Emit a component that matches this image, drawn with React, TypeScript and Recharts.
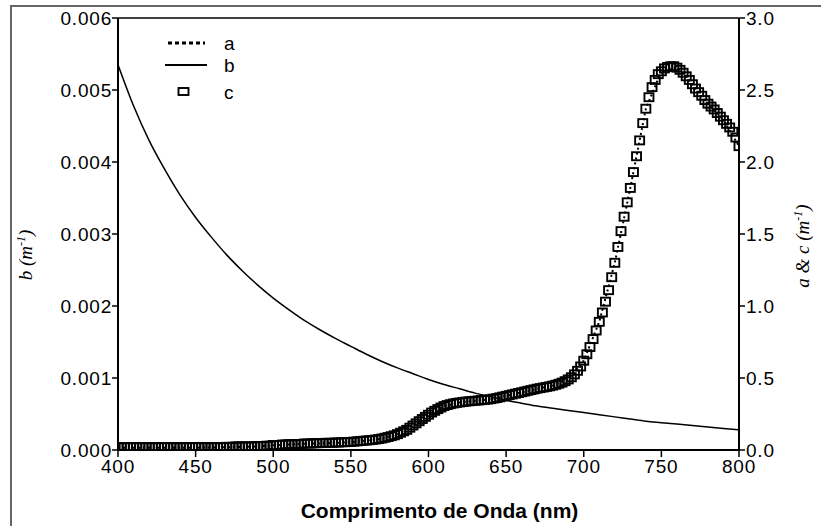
import React from 'react';
import { ComposedChart, Line, Scatter, XAxis, YAxis, Legend, ReferenceLine, Label } from 'recharts';

// Wavelength grid (nm)
const WL_B: number[] = [400, 410, 420, 430, 440, 450, 460, 470, 480, 490, 500, 510, 520, 530, 540, 550, 560, 570, 580, 590, 600, 610, 620, 630, 640, 650, 660, 670, 680, 690, 700, 710, 720, 730, 740, 750, 760, 770, 780, 790, 800];
const WL_C: number[] = Array.from({ length: 201 }, (_, i) => 400 + 2 * i);

// b (m^-1), left axis
const B_VALUES: number[] = [
  0.00535, 0.00478, 0.0043, 0.0039, 0.00354, 0.00323, 0.00296, 0.00271, 0.00249, 0.00229,
  0.00211, 0.00195, 0.0018, 0.00167, 0.00155, 0.00144, 0.00133, 0.00123, 0.00114, 0.00106,
  0.00098, 0.00091, 0.00085, 0.00079, 0.00074, 0.00069, 0.00065, 0.00061, 0.00058, 0.00055,
  0.00052, 0.00049, 0.00046, 0.00043, 0.0004, 0.00038, 0.00036, 0.00034, 0.00032, 0.0003,
  0.00028,
];

// a (m^-1), right axis
const A_VALUES: number[] = [
  0.015, 0.015, 0.015, 0.016, 0.016, 0.016, 0.017, 0.019, 0.022, 0.025,
  0.033, 0.038, 0.043, 0.046, 0.05, 0.054, 0.065, 0.079, 0.11, 0.17,
  0.245, 0.305, 0.33, 0.341, 0.352, 0.375, 0.4, 0.425, 0.447, 0.49,
  0.62, 0.89, 1.3, 1.82, 2.37, 2.63, 2.655, 2.54, 2.405, 2.29,
  2.11,
];

// c (m^-1), right axis, every 2 nm
const C_VALUES: number[] = [
  0.02, 0.02, 0.02, 0.02, 0.02, 0.02, 0.02, 0.02, 0.02, 0.02,
  0.02, 0.02, 0.02, 0.02, 0.02, 0.02, 0.02, 0.02, 0.02, 0.02,
  0.02, 0.02, 0.02, 0.02, 0.02, 0.02, 0.02, 0.02, 0.02, 0.02,
  0.02, 0.02, 0.02, 0.02, 0.02, 0.022, 0.022, 0.022, 0.025, 0.025,
  0.025, 0.025, 0.025, 0.025, 0.025, 0.028, 0.028, 0.028, 0.03, 0.03,
  0.035, 0.035, 0.035, 0.038, 0.038, 0.04, 0.04, 0.04, 0.042, 0.042,
  0.045, 0.045, 0.045, 0.047, 0.047, 0.048, 0.048, 0.05, 0.05, 0.05,
  0.052, 0.052, 0.054, 0.054, 0.055, 0.056, 0.058, 0.06, 0.062, 0.064,
  0.066, 0.068, 0.07, 0.073, 0.076, 0.08, 0.085, 0.09, 0.096, 0.102,
  0.11, 0.12, 0.13, 0.14, 0.155, 0.17, 0.185, 0.2, 0.215, 0.23,
  0.245, 0.26, 0.272, 0.284, 0.295, 0.305, 0.312, 0.318, 0.323, 0.327,
  0.33, 0.333, 0.336, 0.338, 0.34, 0.342, 0.344, 0.346, 0.348, 0.35,
  0.353, 0.357, 0.361, 0.366, 0.371, 0.376, 0.381, 0.386, 0.391, 0.396,
  0.401, 0.406, 0.411, 0.416, 0.421, 0.426, 0.43, 0.434, 0.438, 0.442,
  0.447, 0.453, 0.46, 0.468, 0.478, 0.49, 0.505, 0.525, 0.55, 0.58,
  0.62, 0.665, 0.715, 0.77, 0.83, 0.89, 0.955, 1.03, 1.11, 1.2,
  1.3, 1.41, 1.52, 1.62, 1.72, 1.82, 1.93, 2.04, 2.15, 2.27,
  2.37, 2.45, 2.52, 2.57, 2.61, 2.63, 2.65, 2.66, 2.665, 2.665,
  2.655, 2.64, 2.62, 2.595, 2.57, 2.54, 2.51, 2.485, 2.46, 2.43,
  2.405, 2.385, 2.365, 2.34, 2.315, 2.29, 2.265, 2.24, 2.21, 2.17,
  2.11,
];

const X_TICKS = [400, 450, 500, 550, 600, 650, 700, 750, 800];
const LEFT_TICKS = [0, 0.001, 0.002, 0.003, 0.004, 0.005, 0.006];
const RIGHT_TICKS = [0, 0.5, 1, 1.5, 2, 2.5, 3];

const bData = WL_B.map((wl, i) => ({ wl, val: B_VALUES[i] }));
const aData = WL_B.map((wl, i) => ({ wl, val: A_VALUES[i] }));
const cData = WL_C.map((wl, i) => ({ wl, val: C_VALUES[i] }));

const TICK_FONT = { fill: '#000', fontSize: 19, fontFamily: 'Liberation Sans, Arial, sans-serif', letterSpacing: 0.8 };

const SquareShape = (props: any) => {
  const { cx, cy } = props;
  if (cx == null || cy == null) return null;
  return <rect x={cx - 4.5} y={cy - 4} width={9} height={8} fill="none" stroke="#000" strokeWidth={1.9} />;
};

const LegendContent = () => (
  <svg width={90} height={80} style={{ display: 'block' }}>
    <line x1={8} x2={45} y1={13} y2={13} stroke="#000" strokeWidth={3} strokeDasharray="4 3" />
    <text x={64} y={20} fontSize={19} fontFamily="Liberation Sans, Arial, sans-serif" fill="#000">a</text>
    <line x1={5} x2={47} y1={35} y2={35} stroke="#000" strokeWidth={1.8} />
    <text x={64} y={42} fontSize={19} fontFamily="Liberation Sans, Arial, sans-serif" fill="#000">b</text>
    <rect x={18.5} y={58} width={10} height={7} fill="none" stroke="#000" strokeWidth={1.9} />
    <text x={64} y={69} fontSize={19} fontFamily="Liberation Sans, Arial, sans-serif" fill="#000">c</text>
  </svg>
);

const XTitle = (props: any) => {
  const vb = props.viewBox || {};
  return (
    <text x={vb.x + vb.width / 2 + 11} y={vb.y + 68} textAnchor="middle" fontSize={21} fontWeight="bold"
      fontFamily="Liberation Sans, Arial, sans-serif" fill="#000">Comprimento de Onda (nm)</text>
  );
};

const LeftTitle = (props: any) => {
  const vb = props.viewBox || {};
  const x = vb.x + 32;
  const y = vb.y + vb.height / 2 + 21;
  return (
    <text x={x} y={y} transform={`rotate(-90, ${x}, ${y})`} textAnchor="middle" fontSize={19} fontStyle="italic"
      fontFamily="Liberation Serif, Times New Roman, serif" fill="#000">
      b (m<tspan dy={-7} fontSize={12}>-1</tspan><tspan dy={7}>)</tspan>
    </text>
  );
};

const RightTitle = (props: any) => {
  const vb = props.viewBox || {};
  const x = vb.x + 70;
  const y = vb.y + vb.height / 2 + 12;
  return (
    <text x={x} y={y} transform={`rotate(-90, ${x}, ${y})`} textAnchor="middle" fontSize={19} fontStyle="italic"
      fontFamily="Liberation Serif, Times New Roman, serif" fill="#000">
      a &amp; c (m<tspan dy={-7} fontSize={12}>-1</tspan><tspan dy={7}>)</tspan>
    </text>
  );
};

export default function App() {
  return (
    <div style={{ position: 'absolute', left: 0, top: 0, width: 821, height: 526, background: '#fff', overflow: 'hidden' }}>
      <div style={{ position: 'absolute', left: 10, top: 5, width: 811, height: 521, borderTop: '2px solid #666', borderLeft: '2px solid #666', boxSizing: 'border-box' }} />
      <div style={{ position: 'absolute', left: 0, top: 0 }}>
        <ComposedChart width={821} height={526} margin={{ top: 18, right: 0, bottom: 0, left: 0 }}>
          <XAxis dataKey="wl" type="number" domain={[400, 800]} ticks={X_TICKS} interval={0} allowDataOverflow
            height={76} tickSize={7} tickMargin={3} tick={TICK_FONT}
            axisLine={{ stroke: '#000', strokeWidth: 2 }} tickLine={{ stroke: '#000', strokeWidth: 1.5 }}>
            <Label content={XTitle} />
          </XAxis>
          <YAxis yAxisId="left" orientation="left" width={118} domain={[0, 0.006]} ticks={LEFT_TICKS} interval={0}
            allowDataOverflow tickFormatter={(v: number) => v.toFixed(3)} tickSize={6} tickMargin={0} tick={TICK_FONT}
            axisLine={{ stroke: '#000', strokeWidth: 2 }} tickLine={{ stroke: '#000', strokeWidth: 1.5 }}>
            <Label content={LeftTitle} />
          </YAxis>
          <YAxis yAxisId="right" orientation="right" width={82} domain={[0, 3]} ticks={RIGHT_TICKS} interval={0}
            allowDataOverflow tickFormatter={(v: number) => v.toFixed(1)} tickSize={6} tickMargin={1} tick={TICK_FONT}
            axisLine={{ stroke: '#000', strokeWidth: 2 }} tickLine={{ stroke: '#000', strokeWidth: 1.5 }}>
            <Label content={RightTitle} />
          </YAxis>
          <ReferenceLine yAxisId="left" y={0.006} stroke="#000" strokeWidth={1.5} />
          <Legend layout="vertical" align="center" verticalAlign="middle" content={LegendContent}
            wrapperStyle={{ left: 160, top: 30, width: 90, height: 80 }} />
          <Line yAxisId="left" data={bData} dataKey="val" name="b" type="monotone" stroke="#000" strokeWidth={1.5}
            dot={false} isAnimationActive={false} />
          <Scatter yAxisId="right" data={cData} dataKey="val" name="c" shape={SquareShape} isAnimationActive={false} />
          <Line yAxisId="right" data={aData} dataKey="val" name="a" type="linear" stroke="#000" strokeWidth={2}
            strokeDasharray="2 3" dot={false} isAnimationActive={false} />
        </ComposedChart>
      </div>
    </div>
  );
}
